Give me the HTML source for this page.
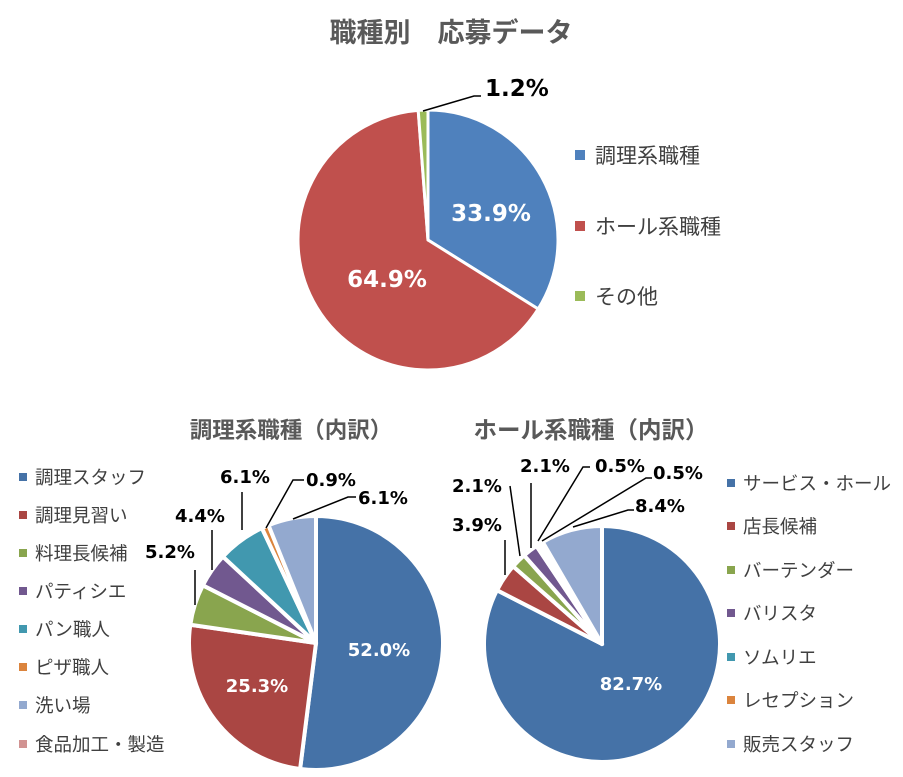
<!DOCTYPE html>
<html><head><meta charset="utf-8"><style>
body{margin:0;background:#fff;}
svg text{font-family:"Liberation Sans","Noto Sans CJK JP",sans-serif;}
svg text.n{font-family:"DejaVu Sans","Liberation Sans",sans-serif;}
</style></head><body>
<svg id="s" width="903" height="772" xmlns="http://www.w3.org/2000/svg">
<text x="451" y="42" text-anchor="middle" font-size="27" font-weight="bold" fill="#595959">職種別　応募データ</text>
<text x="291" y="438" text-anchor="middle" font-size="22.5" font-weight="bold" fill="#595959">調理系職種（内訳）</text>
<text x="591" y="438" text-anchor="middle" font-size="23.5" font-weight="bold" fill="#595959">ホール系職種（内訳）</text>
<g id="pies"></g>
<g font-size="21" fill="#404040">
<rect x="575" y="150" width="10" height="10" fill="#4F81BD"/><text x="595" y="163">調理系職種</text>
<rect x="575" y="221" width="10" height="10" fill="#C0504D"/><text x="595" y="234">ホール系職種</text>
<rect x="575" y="291" width="10" height="10" fill="#9BBB59"/><text x="595" y="304">その他</text>
</g>
<g font-size="18.5" fill="#404040" id="lg1"></g>
<g font-size="18.5" fill="#404040" id="lg2"></g>
<g stroke="#000" stroke-width="1.5" fill="none">
<polyline points="423,111 474,96 481,96"/>
<polyline points="266,528 293,480 304,480"/>
<polyline points="293,519 348,497 356,497"/>
<polyline points="242,530 242,492"/>
<polyline points="212,570 212,530"/>
<polyline points="195,605 195,570"/>
<polyline points="505,575 505,540"/>
<polyline points="520,556 510,486"/>
<polyline points="531,548 531,483"/>
<polyline points="538,541 583,467 590,467"/>
<polyline points="542,541 646,478 652,478"/>
<polyline points="573,527 628,510 634,510"/>
</g>
<g font-weight="bold" fill="#000">
<text class="n" x="485" y="96" font-size="23">1.2%</text>
<g font-size="18">
<text class="n" x="306" y="486">0.9%</text>
<text class="n" x="358" y="504">6.1%</text>
<text class="n" x="220" y="483">6.1%</text>
<text class="n" x="175" y="522">4.4%</text>
<text class="n" x="145" y="558">5.2%</text>
<text class="n" x="452" y="531">3.9%</text>
<text class="n" x="452" y="492">2.1%</text>
<text class="n" x="520" y="472">2.1%</text>
<text class="n" x="595" y="472">0.5%</text>
<text class="n" x="653" y="479">0.5%</text>
<text class="n" x="635" y="512">8.4%</text>
</g>
</g>
<g font-weight="bold" fill="#fff">
<text class="n" x="491" y="221" font-size="23" text-anchor="middle">33.9%</text>
<text class="n" x="387" y="287" font-size="23" text-anchor="middle">64.9%</text>
<text class="n" x="379" y="656" font-size="18" text-anchor="middle">52.0%</text>
<text class="n" x="257" y="692" font-size="18" text-anchor="middle">25.3%</text>
<text class="n" x="631" y="690" font-size="18" text-anchor="middle">82.7%</text>
</g>
</svg>
<script>
var NS="http://www.w3.org/2000/svg",g=document.getElementById('pies');
function pie(cx,cy,r,vals,cols,sw){var a=0,t=vals.reduce(function(x,y){return x+y},0);
vals.forEach(function(v,i){var a2=a+v/t*2*Math.PI;
var x1=cx+r*Math.sin(a),y1=cy-r*Math.cos(a),x2=cx+r*Math.sin(a2),y2=cy-r*Math.cos(a2);
var p=document.createElementNS(NS,'path');
p.setAttribute('d','M'+cx+','+cy+'L'+x1+','+y1+'A'+r+','+r+' 0 '+((a2-a)>Math.PI?1:0)+' 1 '+x2+','+y2+'Z');
p.setAttribute('fill',cols[i]);p.setAttribute('stroke','#fff');p.setAttribute('stroke-width',sw);p.setAttribute('stroke-linejoin','round');
g.appendChild(p);a=a2;});}
pie(428,240,130,[33.9,64.9,1.2],['#4F81BD','#C0504D','#9BBB59'],3);
var c=['#4572A7','#AA4643','#89A54E','#71588F','#4198AF','#DB843D','#93A9CF','#D19392'];
pie(316,643,127,[52.0,25.3,5.2,4.4,6.1,0.9,6.1],c,4);
pie(602,644,118,[82.7,3.9,2.1,2.1,0.5,0.5,8.4],c,4);
function lg(id,x,ys,names){var e=document.getElementById(id);names.forEach(function(n,i){
var r=document.createElementNS(NS,'rect');r.setAttribute('x',x);r.setAttribute('y',ys[i]-5);r.setAttribute('width',8);r.setAttribute('height',8);r.setAttribute('fill',c[i]);e.appendChild(r);
var t=document.createElementNS(NS,'text');t.setAttribute('x',x+16);t.setAttribute('y',ys[i]+6);t.textContent=n;e.appendChild(t);});}
lg('lg1',19,[478,516,554,592,630,668,706,745],['調理スタッフ','調理見習い','料理長候補','パティシエ','パン職人','ピザ職人','洗い場','食品加工・製造']);
lg('lg2',727,[484,527,571,614,658,701,745],['サービス・ホール','店長候補','バーテンダー','バリスタ','ソムリエ','レセプション','販売スタッフ']);
</script>
</body></html>
